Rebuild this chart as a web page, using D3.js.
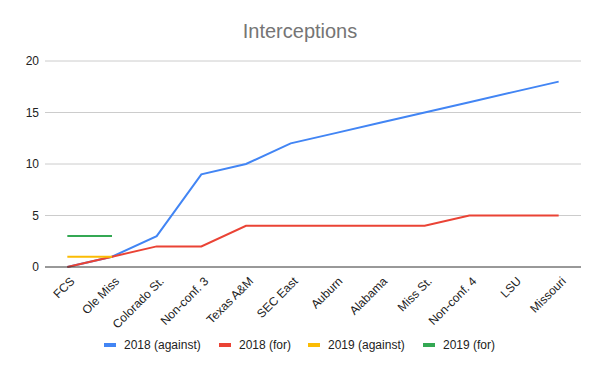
<!DOCTYPE html>
<html>
<head>
<meta charset="utf-8">
<script src="https://cdn.jsdelivr.net/npm/d3@7"></script>
<style>
  body { margin: 0; background: #fff; }
  text { font-family: "Liberation Sans", Arial, sans-serif; }
</style>
</head>
<body>
<svg id="chart"></svg>
<script>
const games = ["FCS", "Ole Miss", "Colorado St.", "Non-conf. 3", "Texas A&M", "SEC East",
  "Auburn", "Alabama", "Miss St.", "Non-conf. 4", "LSU", "Missouri"];
const against2018 = [0, 1, 3, 9, 10, 12, 13, 14, 15, 16, 17, 18];
const for2018 = [0, 1, 2, 2, 4, 4, 4, 4, 4, 5, 5, 5];
const against2019 = [1, 1];
const for2019 = [3, 3];
const yTicks = [0, 5, 10, 15, 20];

const series = [
  {name: "2018 (against)", values: against2018, color: "#4285F4"},
  {name: "2018 (for)", values: for2018, color: "#EA4335"},
  {name: "2019 (against)", values: against2019, color: "#FBBC04"},
  {name: "2019 (for)", values: for2019, color: "#34A853"}
];

const width = 600, height = 371;
const margin = {top: 61, right: 19, bottom: 104, left: 45};
const innerW = width - margin.left - margin.right;
const innerH = height - margin.top - margin.bottom;

const svg = d3.select("#chart").attr("width", width).attr("height", height);

svg.append("text")
  .attr("x", width / 2)
  .attr("y", 38)
  .attr("text-anchor", "middle")
  .style("font-size", "20px")
  .style("fill", "#757575")
  .text("Interceptions");

const chart = svg.append("g").attr("transform", `translate(${margin.left},${margin.top})`);

const x = d3.scaleBand().domain(games).range([0, innerW]);
const y = d3.scaleLinear().domain([0, 20]).range([innerH, 0]);
const cx = d => x(d) + x.bandwidth() / 2;

// gridlines
chart.append("g")
  .selectAll("line")
  .data(yTicks.filter(t => t > 0))
  .join("line")
  .attr("x1", 0).attr("x2", innerW)
  .attr("y1", d => y(d)).attr("y2", d => y(d))
  .attr("stroke", "#cccccc");

// y labels
chart.append("g")
  .selectAll("text")
  .data(yTicks)
  .join("text")
  .attr("x", -6)
  .attr("y", d => y(d))
  .attr("dy", "0.35em")
  .attr("text-anchor", "end")
  .style("font-size", "12px")
  .style("fill", "#222")
  .text(d => d);

// lines
const line = d3.line()
  .x((d, i) => cx(games[i]))
  .y(d => y(d));

chart.append("g")
  .selectAll("path")
  .data(series)
  .join("path")
  .attr("d", d => line(d.values))
  .attr("fill", "none")
  .attr("stroke", d => d.color)
  .attr("stroke-width", 2);

// baseline
chart.append("line")
  .attr("x1", 0).attr("x2", innerW)
  .attr("y1", innerH).attr("y2", innerH)
  .attr("stroke", "#333");

// x labels
chart.append("g")
  .selectAll("text")
  .data(games)
  .join("text")
  .attr("transform", d => `translate(${cx(d) + 5},${innerH + 12}) rotate(-45)`)
  .attr("text-anchor", "end")
  .attr("dy", "0.35em")
  .style("font-size", "12px")
  .style("fill", "#222")
  .text(d => d);

// legend
const legendX = [104, 219, 308, 423];
const legend = svg.append("g")
  .selectAll("g")
  .data(series)
  .join("g")
  .attr("transform", (d, i) => `translate(${legendX[i]},345)`);

legend.append("rect")
  .attr("x", 0).attr("y", -2)
  .attr("width", 12).attr("height", 4)
  .attr("fill", d => d.color);

legend.append("text")
  .attr("x", 20)
  .attr("dy", "0.35em")
  .style("font-size", "12px")
  .style("fill", "#222")
  .text(d => d.name);
</script>
</body>
</html>
